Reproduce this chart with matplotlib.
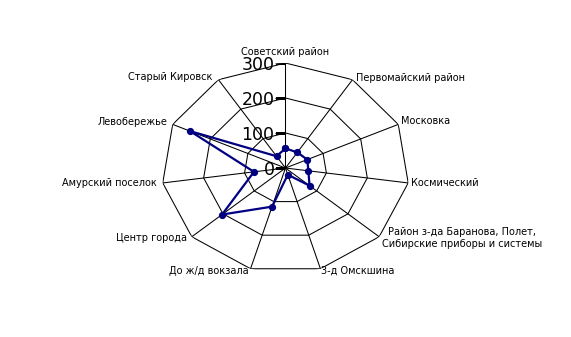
import numpy as np
import matplotlib
matplotlib.use("Agg")
import matplotlib.pyplot as plt
from matplotlib.markers import TICKLEFT

# Districts (clockwise from the top) and their values
districts = [
    "Советский район",
    "Первомайский район",
    "Московка",
    "Космический",
    "Район з-да Баранова, Полет,\nСибирские приборы и системы",
    "3-д Омскшина",
    "До ж/д вокзала",
    "Центр города",
    "Амурский поселок",
    "Левобережье",
    "Старый Кировск",
]
values = [56, 53, 58, 56, 77, 20, 115, 203, 77, 254, 40]
r_ticks = [0, 100, 200, 300]
r_max = 300

# Label offsets (pixels) and alignment relative to each outer vertex
label_offsets = [(0, 11), (3, 2), (3, 3), (3, 0), (3, -1), (1, -2),
                 (-2, -2), (-5, -1), (-6, 0), (-5, 2), (-6, 3)]
label_ha = ["center", "left", "left", "left", "left", "left",
            "right", "right", "right", "right", "right"]

fig = plt.figure(figsize=(5.71, 3.37), dpi=100)
fig.patch.set_facecolor("white")
ax = fig.add_axes([0.2828, 0.1899, 0.4343, 0.6231], projection="polar")
ax.set_aspect("auto")
ax.set_theta_zero_location("N")
ax.set_theta_direction(-1)
ax.set_ylim(0, r_max)
ax.grid(False)
ax.set_xticks([])
ax.set_yticks([])
ax.spines["polar"].set_visible(False)
ax.patch.set_alpha(0)

n = len(districts)
theta = np.linspace(0, 2 * np.pi, n, endpoint=False)
theta_closed = np.append(theta, theta[0])

# Polygonal grid rings and spokes
for r in r_ticks[1:]:
    ax.plot(theta_closed, [r] * (n + 1), color="black", lw=0.75, zorder=1)
for t in theta:
    ax.plot([t, t], [0, r_max], color="black", lw=0.75, zorder=1)

# Radial scale on the top spoke
ax.plot([0] * len(r_ticks), r_ticks, linestyle="none", marker=TICKLEFT,
        markersize=7.5, markeredgewidth=0.75, color="black", zorder=2)
for r in r_ticks:
    ax.annotate(str(r), xy=(0, r), xytext=(-11, -2), textcoords="offset pixels",
                ha="right", va="center", fontsize=12.5, family="DejaVu Sans",
                color="black", zorder=3)

# Data series
vals_closed = values + values[:1]
ax.plot(theta_closed, vals_closed, color="#000080", lw=1.6, marker="o",
        markersize=4.2, markerfacecolor="#000080", markeredgecolor="#000080",
        zorder=4, clip_on=False)

# Category labels
for t, name, off, ha in zip(theta, districts, label_offsets, label_ha):
    ax.annotate(name, xy=(t, r_max), xytext=off, textcoords="offset pixels",
                ha=ha, va="center", multialignment="center", fontsize=7,
                family="DejaVu Sans", color="black", annotation_clip=False)

fig.savefig("out.png", dpi=100, facecolor="white")
